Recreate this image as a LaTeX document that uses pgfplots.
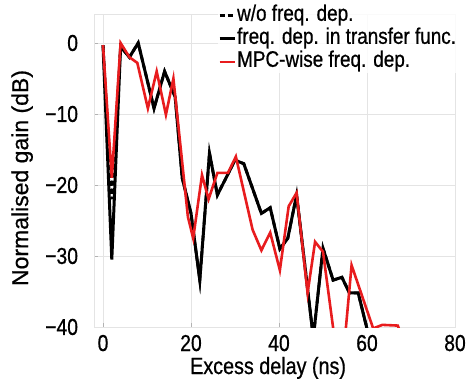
\documentclass[border=0pt]{standalone}
\usepackage{fontspec}
\setmainfont{Liberation Sans}[FakeStretch=0.84, FakeBold=0.7]
\newfontfamily\widesans{Liberation Sans}[FakeBold=0.7]
\usepackage{pgfplots}
\pgfplotsset{compat=1.18}
\definecolor{mpcred}{RGB}{232,28,30}
\definecolor{gridgray}{RGB}{228,228,228}

\begin{document}
\begin{tikzpicture}
\useasboundingbox (-94.2pt,-54pt) rectangle (376.8pt,327pt);
\begin{axis}[
  at={(0pt,0pt)}, anchor=south west,
  scale only axis,
  width=360.8pt, height=312.4pt,
  xmin=-2, xmax=80, ymin=-40, ymax=4,
  xtick={0,20,40,60,80}, xticklabels={0,20,40,60,80},
  ytick={-40,-30,-20,-10,0}, yticklabels={−40,−30,−20,−10,0},
  grid=major, major grid style={gridgray, line width=0.6pt},
  axis line style={gridgray, line width=0.8pt},
  tick style={gray!60, line width=0.6pt}, major tick length=4pt,
  tick pos=left,
  ticklabel style={font=\fontsize{23}{26}\selectfont},
  xticklabel style={anchor=base, yshift=-24pt},
  yticklabel style={anchor=east, inner sep=0pt, xshift=-16pt},
  xlabel={Excess delay (ns)}, ylabel={Normalised gain (dB)},
  every axis x label/.style={at={(rel axis cs:0.482,0)}, anchor=base,
    yshift=-47pt, font=\fontsize{23.5}{26}\selectfont},
  every axis y label/.style={at={(axis description cs:-0.1996,0.477)},
    rotate=90, anchor=center, font=\widesans\fontsize{23}{26}\selectfont},
  legend style={at={(rel axis cs:0.343,1.032)}, anchor=north west,
    draw=none, fill=white, fill opacity=0.85, text opacity=1,
    font=\fontsize{22.5}{22}\selectfont, inner sep=0pt, row sep=1pt,
    nodes={inner sep=1pt, text height=15pt, text depth=5pt}},
  legend cell align=left,
  legend image code/.code={\draw[#1] (0pt,0pt) -- (15pt,0pt);},
  clip=true,
]
% model without frequency dependence (drawn first, mostly covered)
\addplot[black, line width=2.8pt, dash pattern=on 5pt off 3pt] coordinates {
(0,-0.3) (2,-22) (4,-0.5) (6,-2) (8,0) (11.6,-9.2) (14,-4) (16.4,-7.6) (18,-19)
(20,-24) (22,-33.4) (24.2,-15.5) (26,-21.4) (30,-16.5) (32,-17) (36,-24)
(38,-23.2) (40.2,-29) (42,-27.5) (44,-21.4) (47.8,-41.5) (50,-28.9)
(52.3,-33.4) (54.3,-33) (56,-35.2) (58,-35.2) (60.5,-41.5)
};
\addlegendentry{w/o freq. dep.}
% frequency dependence in the transfer function
\addplot[black, line width=3pt] coordinates {
(0,-0.3) (2,-30.5) (4,-0.5) (6,-2) (8,0) (11.6,-9.2) (14,-4) (16.4,-7.6) (18,-19)
(20,-24) (22,-33.4) (24.2,-15.5) (26,-21.4) (30,-16.5) (32,-17) (36,-24)
(38,-23.2) (40.2,-29) (42,-27.5) (44,-21.4) (47.8,-41.5) (50,-28.9)
(52.3,-33.4) (54.3,-33) (56,-35.2) (58,-35.2) (60.5,-41.5)
};
\addlegendentry{freq. dep. in transfer func.}
% MPC-wise frequency dependence
\addplot[mpcred, line width=2.6pt] coordinates {
(0,-0.3) (2,-19) (4,0) (6,-2) (7.8,-2.8) (10.2,-9.2) (12.2,-4) (14.3,-10.1) (16,-5)
(19.3,-24.5) (20.5,-27.5) (22.5,-18.6) (24,-22) (26,-18.3) (28.4,-18.3)
(30.2,-16) (34,-26.3) (36,-29.2) (38,-26.7) (40.2,-32) (42.2,-23) (44,-21.1)
(46.5,-35.2) (48.2,-28) (50,-29.4) (52.6,-41.5) (55,-41.5) (56.5,-31.3)
(61.4,-40.2) (63.5,-39.7) (67,-39.8) (68,-41.5)
};
\addlegendentry{MPC-wise freq. dep.}
\end{axis}
\end{tikzpicture}
\end{document}
